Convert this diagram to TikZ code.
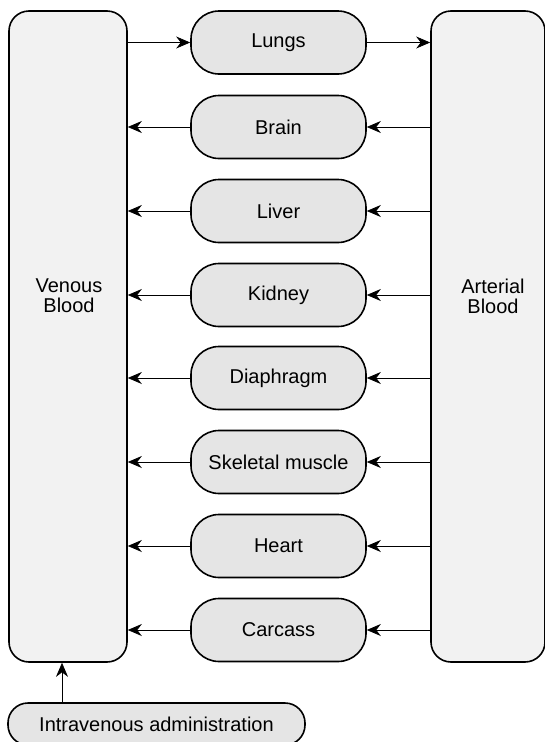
\documentclass[tikz,border=0pt]{standalone}
\usepackage{fontspec}
\setmainfont{Liberation Sans}
\usetikzlibrary{arrows.meta}
\begin{document}
\begin{tikzpicture}[x=1pt,y=-1pt,
  bigbox/.style={draw, line width=1.6pt, fill=black!5, rounded corners=20pt, inner sep=0pt},
  organ/.style={draw, line width=1.6pt, fill=black!10, rounded corners=28pt, minimum width=175pt, minimum height=63pt, inner sep=0pt, font=\fontsize{20}{20}\selectfont},
  lbl/.style={align=center, inner sep=0pt, font=\fontsize{20}{20}\selectfont},
  arr/.style={-{Stealth[length=14pt,width=12pt,inset=4.5pt]}, line width=0.8pt}]
\useasboundingbox (0,0) rectangle (544,742);
\node[bigbox, minimum width=118pt, minimum height=651pt] (ven) at (68,336.5) {};
\node[bigbox, minimum width=114pt, minimum height=651pt] (art) at (488,336.5) {};
\node[lbl] (ventext) at (69,296) {Venous\\Blood};
\node[lbl] (arttext) at (493,296) {Arterial\\Blood};
\node[organ] (lungs) at (278.5,42.5) {Lungs};
\node[organ] (brain) at (278.5,127) {Brain};
\node[organ] (liver) at (278.5,211) {Liver};
\node[organ] (kidney) at (278.5,295) {Kidney};
\node[organ] (diaph) at (278.5,378) {Diaphragm};
\node[organ] (skel) at (278.5,462) {Skeletal muscle};
\node[organ] (heart) at (278.5,546) {Heart};
\node[organ] (carc) at (278.5,630) {Carcass};
\node[organ, rounded corners=20pt, minimum width=297pt, minimum height=42pt] (iv) at (156.5,724) {Intravenous administration};
\draw[arr] (ven.east |- lungs.west) -- (lungs.west);
\draw[arr] (lungs.east) -- (art.west |- lungs.east);
\foreach \o in {brain,liver,kidney,diaph,skel,heart,carc}{
  \draw[arr] (art.west |- \o.east) -- (\o.east);
  \draw[arr] (\o.west) -- (ven.east |- \o.west);
}
\draw[arr] (iv.north -| 62,0) -- (ven.south -| 62,0);
\end{tikzpicture}
\end{document}
